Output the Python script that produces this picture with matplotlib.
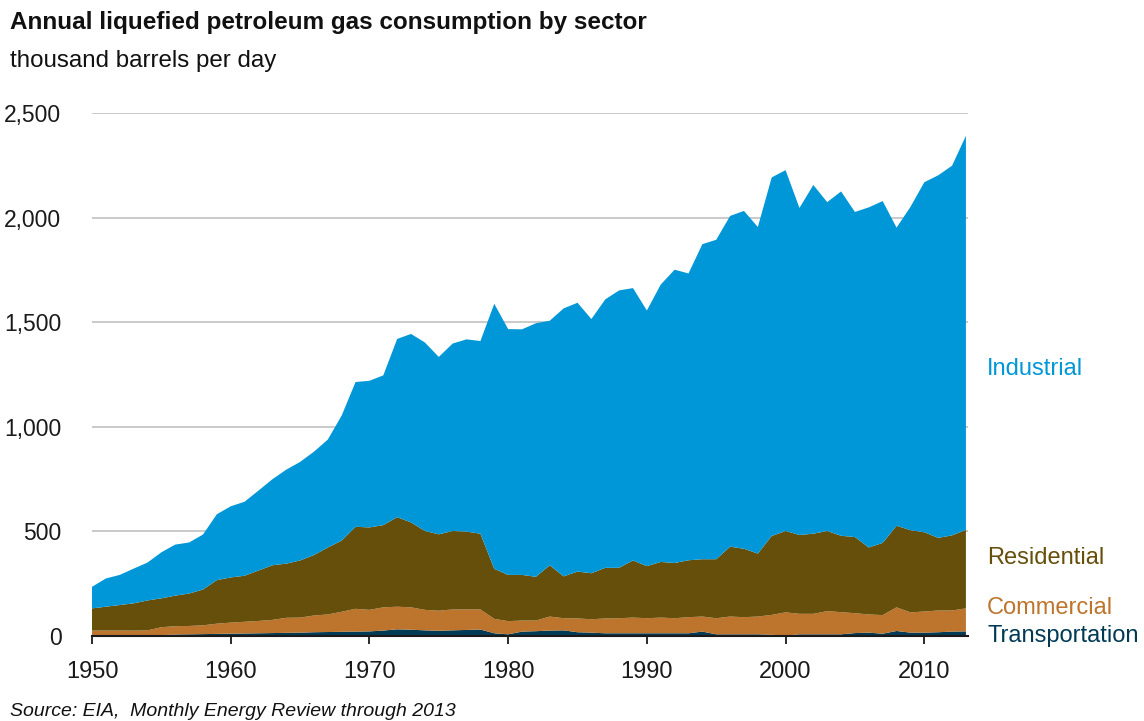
import numpy as np
import matplotlib
matplotlib.use("Agg")
import matplotlib.pyplot as plt

plt.rcParams['font.family'] = ['Liberation Sans', 'DejaVu Sans']

# thousand barrels per day
years = list(range(1950, 2014))

transportation = [2, 2, 2, 2, 2, 4, 7, 8, 9, 10,
                  11, 12, 13, 14, 15, 16, 18, 19, 20, 21,
                  22, 26, 32, 30, 27, 25, 27, 29, 31, 13,
                  8, 21, 23, 26, 27, 18, 16, 13, 13, 13,
                  13, 13, 13, 13, 21, 8, 8, 8, 8, 6,
                  2, 8, 8, 8, 8, 14, 16, 11, 24, 16,
                  16, 18, 21, 22]

commercial = [24, 24, 24, 24, 25, 38, 40, 40, 42, 49,
              53, 56, 59, 63, 72, 72, 80, 84, 96, 109,
              103, 111, 108, 107, 98, 96, 100, 98, 96, 69,
              63, 53, 51, 67, 58, 66, 64, 71, 72, 75,
              72, 75, 72, 77, 72, 77, 85, 82, 85, 95,
              111, 98, 98, 111, 106, 95, 87, 89, 113, 97,
              101, 104, 101, 110]

residential = [106, 114, 122, 130, 143, 138, 146, 155, 171, 208,
               216, 220, 241, 261, 259, 273, 289, 320, 340, 392,
               394, 393, 428, 406, 377, 365, 375, 372, 362, 239,
               221, 218, 209, 245, 200, 224, 220, 242, 241, 273,
               249, 266, 264, 272, 274, 282, 334, 327, 301, 377,
               389, 377, 383, 383, 365, 364, 320, 345, 390, 393,
               379, 347, 359, 375]

industrial = [103, 135, 144, 166, 181, 220, 244, 244, 263, 315,
              340, 354, 382, 411, 449, 471, 494, 516, 598, 692,
              701, 716, 852, 901, 901, 848, 896, 919, 921, 1267,
              1175, 1174, 1212, 1169, 1281, 1285, 1215, 1283, 1326, 1302,
              1222, 1326, 1402, 1371, 1506, 1527, 1581, 1615, 1561, 1714,
              1725, 1563, 1667, 1572, 1646, 1554, 1626, 1634, 1425, 1545,
              1673, 1733, 1767, 1884]

sector_names = ['Transportation', 'Commercial', 'Residential', 'Industrial']
sector_colors = ['#003a55', '#bd742c', '#654f0a', '#0097d8']

x_ticks = [1950, 1960, 1970, 1980, 1990, 2000, 2010]
y_ticks = [0, 500, 1000, 1500, 2000, 2500]
y_tick_labels = ['0', '500', '1,000', '1,500', '2,000', '2,500']

fig = plt.figure(figsize=(11.44, 7.21), dpi=100)
ax = fig.add_axes([92 / 1144, 1 - 636 / 721, (968 - 92) / 1144, (636 - 113) / 721])

ax.stackplot(years, transportation, commercial, residential, industrial,
             colors=sector_colors, linewidth=0, zorder=2)

ax.set_xlim(1950, 2013.15)
ax.set_ylim(0, 2500)

ax.set_yticks(y_ticks)
ax.set_yticklabels(y_tick_labels)
ax.set_xticks(x_ticks)
ax.set_xticklabels([str(y) for y in x_ticks])

ax.yaxis.grid(True, color='#c6c6c6', linewidth=1.3, zorder=0)
ax.set_axisbelow(True)

for side in ['top', 'right', 'left']:
    ax.spines[side].set_visible(False)
ax.spines['bottom'].set_color('#1a1a1a')
ax.spines['bottom'].set_linewidth(1.5)
ax.spines['bottom'].set_zorder(5)

ax.tick_params(axis='y', length=0, pad=22, labelsize=16.5, labelcolor='#1a1a1a')
ax.tick_params(axis='x', direction='out', length=6, width=1.3, color='#1a1a1a',
               pad=12, labelsize=17, labelcolor='#1a1a1a')

# sector labels on the right
label_y = [636, 608, 558, 369]
for name, color, yy in zip(sector_names, sector_colors, label_y):
    fig.text(987 / 1144, 1 - yy / 721, name, color=color, fontsize=17,
             ha='left', va='center')

fig.text(10 / 1144, 1 - 23 / 721, 'Annual liquefied petroleum gas consumption by sector',
         fontsize=17.5, fontweight='bold', color='#111111', ha='left', va='center')
fig.text(10 / 1144, 1 - 61 / 721, 'thousand barrels per day',
         fontsize=17.4, color='#111111', ha='left', va='center')
fig.text(10 / 1144, 1 - 711 / 721, 'Source: EIA,  Monthly Energy Review through 2013',
         fontsize=14, style='italic', color='#111111', ha='left', va='center')

fig.savefig('out.png', dpi=100)
